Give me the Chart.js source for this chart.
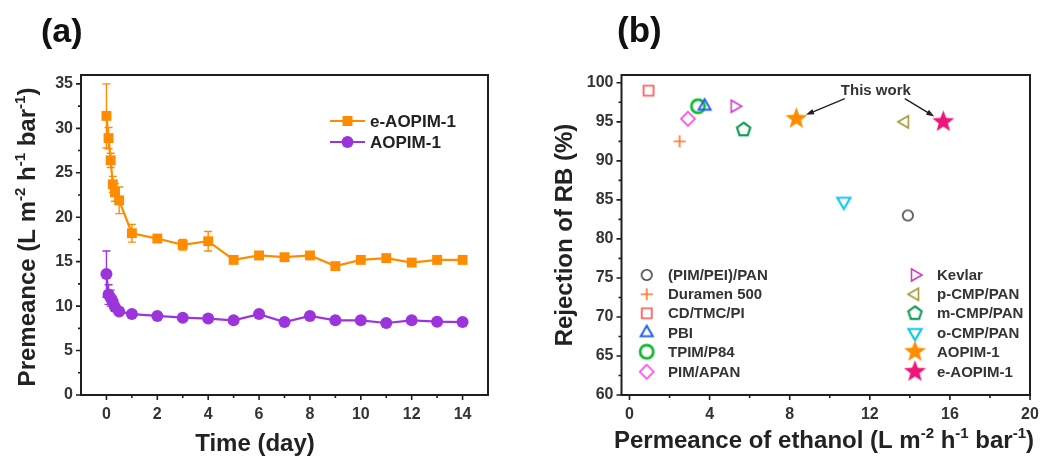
<!DOCTYPE html>
<html><head><meta charset="utf-8">
<script src="https://cdn.jsdelivr.net/npm/chart.js@4.4.1/dist/chart.umd.min.js"></script>
<style>
html,body{margin:0;padding:0;background:#fff;overflow:hidden;}
#wrap{position:relative;width:1043px;height:457px;overflow:hidden;background:#fff;}
canvas{position:absolute;top:0;}
#ca{left:0;} #cb{left:530px;}
</style></head><body>
<div id="wrap"><canvas id="ca" width="530" height="457"></canvas><canvas id="cb" width="543" height="457"></canvas></div>
<script>
// ---------- Panel (a) data ----------
const timeDays   = [0, 0.083, 0.167, 0.25, 0.333, 0.5, 1, 2, 3, 4, 5, 6, 7, 8, 9, 10, 11, 12, 13, 14];
const eAOPIM1    = [31.4, 28.9, 26.4, 23.7, 22.8, 21.9, 18.2, 17.6, 16.9, 17.3, 15.2, 15.7, 15.5, 15.7, 14.5, 15.2, 15.4, 14.9, 15.2, 15.2];
const eAOPIM1Err = [3.6, 1.2, 0.8, 0.9, 1.0, 1.5, 1.0, 0.3, 0.6, 1.1, 0.3, 0.4, 0.3, 0.3, 0.3, 0.3, 0.3, 0.3, 0.3, 0.3];
const AOPIM1     = [13.6, 11.3, 10.9, 10.5, 9.9, 9.4, 9.1, 8.9, 8.7, 8.6, 8.4, 9.1, 8.2, 8.9, 8.4, 8.4, 8.1, 8.4, 8.25, 8.2];
const AOPIM1Err  = [2.6, 1.1, 0.9, 0.6, 0.4, 0.3, 0.3, 0.2, 0.2, 0.2, 0.2, 0.3, 0.2, 0.2, 0.2, 0.2, 0.2, 0.2, 0.2, 0.2];
const timeTicks  = [0, 2, 4, 6, 8, 10, 12, 14];
const timeMinor  = [1, 3, 5, 7, 9, 11, 13];
const permTicks  = [0, 5, 10, 15, 20, 25, 30, 35];
const permMinor  = [2.5, 7.5, 12.5, 17.5, 22.5, 27.5, 32.5];

// ---------- Panel (b) data ----------
const materials        = ['(PIM/PEI)/PAN', 'Duramen 500', 'CD/TMC/PI', 'PBI', 'TPIM/P84', 'PIM/APAN', 'Kevlar', 'p-CMP/PAN', 'm-CMP/PAN', 'o-CMP/PAN', 'AOPIM-1', 'e-AOPIM-1'];
const ethanolPermeance = [13.9, 2.5, 0.95, 3.75, 3.42, 2.92, 5.25, 13.75, 5.7, 10.7, 8.33, 15.67];
const rbRejection      = [83.0, 92.5, 99.0, 97.0, 97.0, 95.4, 97.0, 95.0, 94.0, 84.8, 95.4, 95.0];
const ethanolTicks     = [0, 4, 8, 12, 16, 20];
const ethanolMinor     = [2, 6, 10, 14, 18];
const rejectionTicks   = [60, 65, 70, 75, 80, 85, 90, 95, 100];
const rejectionMinor   = [62.5, 67.5, 72.5, 77.5, 82.5, 87.5, 92.5, 97.5];

const FONT = '"Liberation Sans", Arial, Helvetica, sans-serif';
const ORANGE = '#ff8c00', PURPLE = '#9b35db';

// marker images
function makeMarker(shape, color, r, lw, filled) {
  const S = Math.ceil(2 * r + 2 * lw + 4);
  const c = document.createElement('canvas'); c.width = S; c.height = S;
  const g = c.getContext('2d'); const cx = S / 2, cy = S / 2;
  g.strokeStyle = color; g.fillStyle = color; g.lineWidth = lw; g.lineJoin = 'miter';
  const poly = (n, rad, rot) => {
    for (let i = 0; i < n; i++) {
      const a = (rot + i * 360 / n) * Math.PI / 180;
      const px = cx + rad * Math.cos(a), py = cy + rad * Math.sin(a);
      i ? g.lineTo(px, py) : g.moveTo(px, py);
    }
    g.closePath();
  };
  g.beginPath();
  switch (shape) {
    case 'circle': g.arc(cx, cy, r, 0, 2 * Math.PI); break;
    case 'square': g.rect(cx - r, cy - r, 2 * r, 2 * r); break;
    case 'plus': g.moveTo(cx - r, cy); g.lineTo(cx + r, cy); g.moveTo(cx, cy - r); g.lineTo(cx, cy + r); break;
    case 'diamond': poly(4, r, -90); break;
    case 'triUp': poly(3, r, -90); break;
    case 'triDown': poly(3, r, 90); break;
    case 'triRight': poly(3, r, 0); break;
    case 'triLeft': poly(3, r, 180); break;
    case 'pentagon': poly(5, r, -90); break;
    case 'star':
      for (let i = 0; i < 10; i++) {
        const a = (-90 + i * 36) * Math.PI / 180, rr = i % 2 ? r * 0.42 : r;
        const px = cx + rr * Math.cos(a), py = cy + rr * Math.sin(a);
        i ? g.lineTo(px, py) : g.moveTo(px, py);
      }
      g.closePath(); break;
  }
  filled ? g.fill() : g.stroke();
  return c;
}
const markerSpecs = [
  ['circle',  '#444444', 5.2, 1.6, false],
  ['plus',    '#ff7030', 6,   1.6, false],
  ['square',  '#ff4d4d', 5,   1.6, false],
  ['triUp',   '#2060f0', 7,   2,   false],
  ['circle',  '#12b830', 6.6, 2.8, false],
  ['diamond', '#ff3ef0', 7,   1.6, false],
  ['triRight','#d040c8', 7,   1.6, false],
  ['triLeft', '#a39a3a', 7,   1.6, false],
  ['pentagon','#139a5a', 7,   2.2, false],
  ['triDown', '#10c8f0', 7.5, 2.2, false],
  ['star',    ORANGE,    11.5, 1,  true],
  ['star',    '#ee1478', 11.5, 1,  true]
];
const markerImgs = markerSpecs.map(s => makeMarker(...s));

// rich text helper (superscripts)
function richText(ctx, parts, size, x, y, rotate, color) {
  ctx.save();
  ctx.fillStyle = color;
  ctx.textBaseline = 'alphabetic';
  const supSize = Math.round(size * 0.62);
  let total = 0;
  parts.forEach(p => { ctx.font = `bold ${p.sup ? supSize : size}px ${FONT}`; total += ctx.measureText(p.t).width; });
  ctx.translate(x, y);
  if (rotate) ctx.rotate(-Math.PI / 2);
  let cx = -total / 2;
  parts.forEach(p => {
    ctx.font = `bold ${p.sup ? supSize : size}px ${FONT}`;
    ctx.textAlign = 'left';
    ctx.fillText(p.t, cx, p.sup ? -size * 0.42 : 0);
    cx += ctx.measureText(p.t).width;
  });
  ctx.restore();
}

function drawFrameAndTicks(chart, xMajor, xMinor, yMajor, yMinor) {
  const { ctx, chartArea: a, scales } = chart;
  ctx.save();
  ctx.strokeStyle = '#1e1e1e'; ctx.lineWidth = 2;
  ctx.strokeRect(a.left, a.top, a.right - a.left, a.bottom - a.top);
  ctx.lineWidth = 1.6; ctx.beginPath();
  xMajor.forEach(v => { const p = scales.x.getPixelForValue(v); ctx.moveTo(p, a.bottom); ctx.lineTo(p, a.bottom + 5); });
  xMinor.forEach(v => { const p = scales.x.getPixelForValue(v); ctx.moveTo(p, a.bottom); ctx.lineTo(p, a.bottom + 3); });
  yMajor.forEach(v => { const p = scales.y.getPixelForValue(v); ctx.moveTo(a.left, p); ctx.lineTo(a.left - 5, p); });
  yMinor.forEach(v => { const p = scales.y.getPixelForValue(v); ctx.moveTo(a.left, p); ctx.lineTo(a.left - 3, p); });
  ctx.stroke();
  ctx.restore();
}

function axisOpts(min, max, tickVals, fitProp, fitVal, pad) {
  return {
    type: 'linear', min, max,
    afterBuildTicks: s => { s.ticks = tickVals.map(v => ({ value: v })); },
    afterFit: s => { s[fitProp] = fitVal; },
    grid: { display: false, drawTicks: false },
    border: { display: false },
    ticks: { autoSkip: false, maxRotation: 0, padding: pad, color: '#333', font: { family: FONT, size: 16, weight: 'bold' } }
  };
}

// ---------- Chart (a) ----------
const errMap = [eAOPIM1Err, AOPIM1Err];
const pluginA = {
  id: 'pa',
  beforeDatasetsDraw(chart) {
    const { ctx } = chart; const ys = chart.scales.y;
    chart.data.datasets.forEach((ds, i) => {
      const meta = chart.getDatasetMeta(i); const errs = errMap[i];
      ctx.save(); ctx.strokeStyle = ds.borderColor; ctx.lineWidth = 1.4; ctx.beginPath();
      meta.data.forEach((pt, j) => {
        const v = ds.data[j].y, e = errs[j];
        const t = ys.getPixelForValue(v + e), b = ys.getPixelForValue(v - e);
        ctx.moveTo(pt.x, t); ctx.lineTo(pt.x, b);
        ctx.moveTo(pt.x - 4, t); ctx.lineTo(pt.x + 4, t);
        ctx.moveTo(pt.x - 4, b); ctx.lineTo(pt.x + 4, b);
      });
      ctx.stroke(); ctx.restore();
    });
  },
  afterDraw(chart) {
    const { ctx } = chart;
    drawFrameAndTicks(chart, timeTicks, timeMinor, permTicks, permMinor);
    // legend
    const items = [['e-AOPIM-1', ORANGE, 'rect', 121], ['AOPIM-1', PURPLE, 'circle', 142]];
    items.forEach(([label, col, shape, y]) => {
      ctx.save();
      ctx.strokeStyle = col; ctx.fillStyle = col; ctx.lineWidth = 2.2;
      ctx.beginPath(); ctx.moveTo(330, y); ctx.lineTo(365, y); ctx.stroke();
      ctx.beginPath();
      if (shape === 'rect') ctx.rect(347.5 - 5, y - 5, 10, 10); else ctx.arc(347.5, y, 6, 0, 2 * Math.PI);
      ctx.fill();
      ctx.fillStyle = '#222'; ctx.font = `bold 17px ${FONT}`; ctx.textBaseline = 'middle'; ctx.textAlign = 'left';
      ctx.fillText(label, 370, y + 1);
      ctx.restore();
    });
    // titles
    ctx.save(); ctx.fillStyle = '#111'; ctx.font = `bold 34px ${FONT}`; ctx.textBaseline = 'alphabetic';
    ctx.fillText('(a)', 41, 42); ctx.restore();
    richText(ctx, [{ t: 'Time (day)' }], 24, 255, 451, false, '#222');
    richText(ctx, [{ t: 'Premeance (L m' }, { t: '-2', sup: 1 }, { t: ' h' }, { t: '-1', sup: 1 }, { t: ' bar' }, { t: '-1', sup: 1 }, { t: ')' }], 24, 35, 237, true, '#222');
  }
};

new Chart(document.getElementById('ca'), {
  type: 'line',
  data: {
    datasets: [
      { label: 'e-AOPIM-1', data: timeDays.map((t, i) => ({ x: t, y: eAOPIM1[i] })), borderColor: ORANGE, backgroundColor: ORANGE,
        borderWidth: 2.2, pointStyle: 'rect', pointRadius: 7, pointBorderWidth: 0, tension: 0 },
      { label: 'AOPIM-1', data: timeDays.map((t, i) => ({ x: t, y: AOPIM1[i] })), borderColor: PURPLE, backgroundColor: PURPLE,
        borderWidth: 2.2, pointStyle: 'circle', pointRadius: 6, pointBorderWidth: 0, tension: 0 }
    ]
  },
  options: {
    responsive: false, animation: false, devicePixelRatio: 1, events: [],
    layout: { padding: { top: 75, right: 42, left: 0, bottom: 0 } },
    plugins: { legend: { display: false }, tooltip: { enabled: false } },
    scales: {
      x: axisOpts(-1, 15, timeTicks, 'height', 62, 10),
      y: axisOpts(0, 36, permTicks, 'width', 81, 8)
    }
  },
  plugins: [pluginA]
});

// ---------- Chart (b) ----------
const OFF = 530;
const pluginB = {
  id: 'pb',
  afterDraw(chart) {
    const { ctx, scales } = chart;
    drawFrameAndTicks(chart, ethanolTicks, ethanolMinor, rejectionTicks, rejectionMinor);
    // legend
    const leftCol = [0, 1, 2, 3, 4, 5], rightCol = [6, 7, 8, 9, 10, 11];
    const rows = [275, 294.3, 313.3, 332.7, 351.7, 371.7];
    ctx.save();
    ctx.fillStyle = '#333'; ctx.font = `bold 15px ${FONT}`; ctx.textBaseline = 'middle'; ctx.textAlign = 'left';
    [[leftCol, 646.7, 668], [rightCol, 915, 937]].forEach(([idxs, mx, tx]) => {
      idxs.forEach((k, r) => {
        const img = markerImgs[k];
        ctx.drawImage(img, mx - OFF - img.width / 2, rows[r] - img.height / 2);
        ctx.fillText(materials[k], tx - OFF, rows[r] + 1);
      });
    });
    ctx.restore();
    // "This work" annotation
    const tx = scales.x.getPixelForValue(12.3), ty = scales.y.getPixelForValue(99.0);
    ctx.save();
    ctx.fillStyle = '#333'; ctx.font = `bold 15px ${FONT}`; ctx.textAlign = 'center'; ctx.textBaseline = 'middle';
    ctx.fillText('This work', tx, ty);
    const arrows = [[tx - 31, ty + 8, 10], [tx + 29, ty + 8, 11]];
    arrows.forEach(([sx, sy, k]) => {
      const px = scales.x.getPixelForValue(ethanolPermeance[k]), py = scales.y.getPixelForValue(rbRejection[k]);
      const dx = px - sx, dy = py - sy, L = Math.hypot(dx, dy), ux = dx / L, uy = dy / L;
      const ex = px - ux * 10.5, ey = py - uy * 10.5;
      ctx.strokeStyle = '#222'; ctx.fillStyle = '#222'; ctx.lineWidth = 1.4;
      ctx.beginPath(); ctx.moveTo(sx, sy); ctx.lineTo(ex - ux * 5, ey - uy * 5); ctx.stroke();
      ctx.beginPath(); ctx.moveTo(ex, ey);
      ctx.lineTo(ex - ux * 8 - uy * 2.8, ey - uy * 8 + ux * 2.8);
      ctx.lineTo(ex - ux * 8 + uy * 2.8, ey - uy * 8 - ux * 2.8);
      ctx.closePath(); ctx.fill();
    });
    ctx.restore();
    ctx.save(); ctx.fillStyle = '#111'; ctx.font = `bold 35px ${FONT}`; ctx.textBaseline = 'alphabetic';
    ctx.fillText('(b)', 617 - OFF, 42); ctx.restore();
    richText(ctx, [{ t: 'Permeance of ethanol (L m' }, { t: '-2', sup: 1 }, { t: ' h' }, { t: '-1', sup: 1 }, { t: ' bar' }, { t: '-1', sup: 1 }, { t: ')' }], 24, 824 - OFF, 448, false, '#222');
    richText(ctx, [{ t: 'Rejection of RB (%)' }], 24, 572 - OFF, 235, true, '#222');
  }
};

new Chart(document.getElementById('cb'), {
  type: 'scatter',
  data: {
    datasets: materials.map((m, k) => ({
      label: m,
      data: [{ x: ethanolPermeance[k], y: rbRejection[k] }],
      pointStyle: markerImgs[k], pointRadius: 8, showLine: false
    }))
  },
  options: {
    responsive: false, animation: false, devicePixelRatio: 1, events: [],
    layout: { padding: { top: 75, right: 43, left: 0, bottom: 0 } },
    plugins: { legend: { display: false }, tooltip: { enabled: false } },
    scales: {
      x: axisOpts(-0.4, 20, ethanolTicks, 'height', 62, 10),
      y: axisOpts(60, 101, rejectionTicks, 'width', 91.5, 8)
    }
  },
  plugins: [pluginB]
});
</script>
</body></html>
